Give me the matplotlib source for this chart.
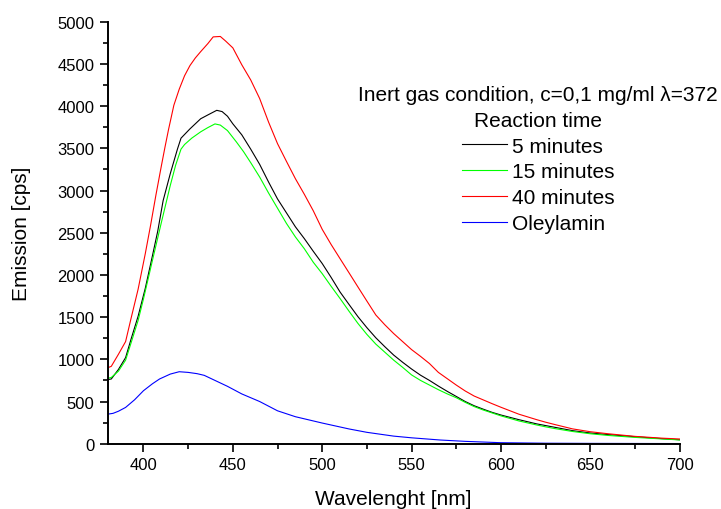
# Emission spectra, inert gas condition
import numpy as np
import matplotlib.pyplot as plt

plt.rcParams['font.family'] = ['Liberation Sans', 'DejaVu Sans']

# 5 minutes (black)
wl_5 = [380, 382, 386, 390, 393, 397, 401, 405, 408, 411, 415, 419, 421, 426, 432, 436, 441, 444,
        447, 450, 455, 460, 465, 470, 475, 480, 485, 490, 495, 500, 505, 510, 515, 520, 525, 530,
        535, 540, 545, 550, 555, 560, 565, 570, 575, 580, 585, 590, 595, 600, 610, 620, 625, 630,
        640, 650, 660, 675, 690, 700]
em_5 = [760, 767, 880, 1020, 1235, 1510, 1840, 2225, 2520, 2880, 3200, 3490, 3620, 3730, 3850,
        3895, 3950, 3935, 3880, 3790, 3660, 3490, 3310, 3100, 2900, 2735, 2570, 2430, 2280, 2135,
        1970, 1797, 1650, 1505, 1375, 1255, 1150, 1050, 965, 885, 812, 750, 683, 620, 560, 500,
        450, 410, 372, 340, 285, 235, 215, 195, 155, 127, 108, 83, 60, 47]

# 15 minutes (green)
wl_15 = [380, 382, 386, 390, 393, 397, 400, 405, 410, 415, 418, 421, 423, 427, 432, 436, 440, 443,
         447, 452, 456, 460, 465, 470, 475, 480, 485, 490, 495, 500, 505, 510, 515, 520, 525, 530,
         535, 540, 545, 550, 555, 560, 565, 570, 575, 580, 585, 590, 595, 600, 610, 620, 625, 630,
         640, 650, 660, 675, 690, 700]
em_15 = [775, 785, 860, 990, 1190, 1460, 1715, 2170, 2620, 3060, 3300, 3490, 3545, 3620, 3695,
         3745, 3789, 3775, 3710, 3575, 3460, 3330, 3160, 2970, 2790, 2610, 2450, 2310, 2150, 2015,
         1865, 1720, 1570, 1425, 1295, 1180, 1085, 990, 905, 815, 750, 695, 640, 590, 545, 490,
         440, 400, 365, 330, 270, 222, 200, 180, 145, 118, 98, 75, 57, 45]

# 40 minutes (red)
wl_40 = [380, 382, 386, 390, 393, 397, 401, 404, 407, 410, 412, 414, 417, 420, 423, 426, 429, 432,
         436, 439, 443, 446, 450, 455, 460, 465, 470, 475, 480, 485, 490, 495, 500, 505, 510, 515,
         520, 525, 530, 535, 540, 545, 550, 555, 560, 565, 570, 575, 580, 585, 590, 595, 600, 610,
         620, 625, 630, 640, 650, 660, 675, 690, 700]
em_40 = [900, 917, 1060, 1210, 1480, 1830, 2250, 2590, 2950, 3290, 3510, 3720, 4010, 4200, 4360,
         4480, 4570, 4645, 4740, 4820, 4825, 4770, 4690, 4490, 4310, 4090, 3810, 3555, 3345, 3140,
         2955, 2760, 2540, 2360, 2192, 2025, 1857, 1690, 1525, 1410, 1305, 1210, 1115, 1035, 950,
         845, 770, 695, 625, 565, 520, 475, 432, 350, 285, 255, 228, 176, 142, 118, 87, 66, 56]

# Oleylamin (blue)
wl_ol = [380, 383, 386, 390, 395, 400, 405, 409, 415, 420, 425, 430, 434, 440, 447, 455, 465, 475,
         485, 500, 515, 525, 540, 550, 566, 580, 600, 625, 650, 700]
em_ol = [350, 360, 385, 430, 520, 628, 710, 767, 825, 853, 845, 830, 810, 750, 680, 590, 500, 390,
         320, 245, 175, 135, 90, 70, 44, 28, 12, 6, 4, 2]

series = [
    (wl_5, em_5, '5 minutes', 'black'),
    (wl_15, em_15, '15 minutes', '#00ff00'),
    (wl_40, em_40, '40 minutes', '#ff0000'),
    (wl_ol, em_ol, 'Oleylamin', '#0000ff'),
]

fig = plt.figure(figsize=(7.21, 5.10), dpi=100)
ax = fig.add_axes([0.1494, 0.128, 0.7933, 0.8275])

for wl, em, label, color in series:
    ax.plot(wl, em, color=color, lw=0.8, label=label)

ax.set_xlim(380, 700)
ax.set_ylim(0, 5000)
ax.set_xticks(np.arange(400, 701, 50))
ax.set_xticks(np.arange(400, 701, 25), minor=True)
ax.set_yticks(np.arange(0, 5001, 500))
ax.set_yticks(np.arange(0, 5001, 250), minor=True)

for side in ['top', 'right']:
    ax.spines[side].set_visible(False)
for side in ['left', 'bottom']:
    ax.spines[side].set_linewidth(1.4)

ax.tick_params(which='major', direction='out', length=6, width=1.2, labelsize=12)
ax.tick_params(which='minor', direction='out', length=3.3, width=1.2)

ax.set_xlabel('Wavelenght [nm]', fontsize=15, labelpad=12)
ax.set_ylabel('Emission [cps]', fontsize=15, labelpad=19)

leg = ax.legend(title='Inert gas condition, c=0,1 mg/ml \u03bb=372\nReaction time',
                loc='upper right', bbox_to_anchor=(718 / 721, 1 - 86 / 510),
                bbox_transform=fig.transFigure, frameon=False, fontsize=15,
                title_fontsize=15, handlelength=2.17, handletextpad=0.25,
                labelspacing=0.33, borderpad=0, borderaxespad=0, alignment='center')
leg.get_title().set_linespacing(1.45)
leg.get_title().set_multialignment('center')

fig.savefig('out.png', dpi=100)
